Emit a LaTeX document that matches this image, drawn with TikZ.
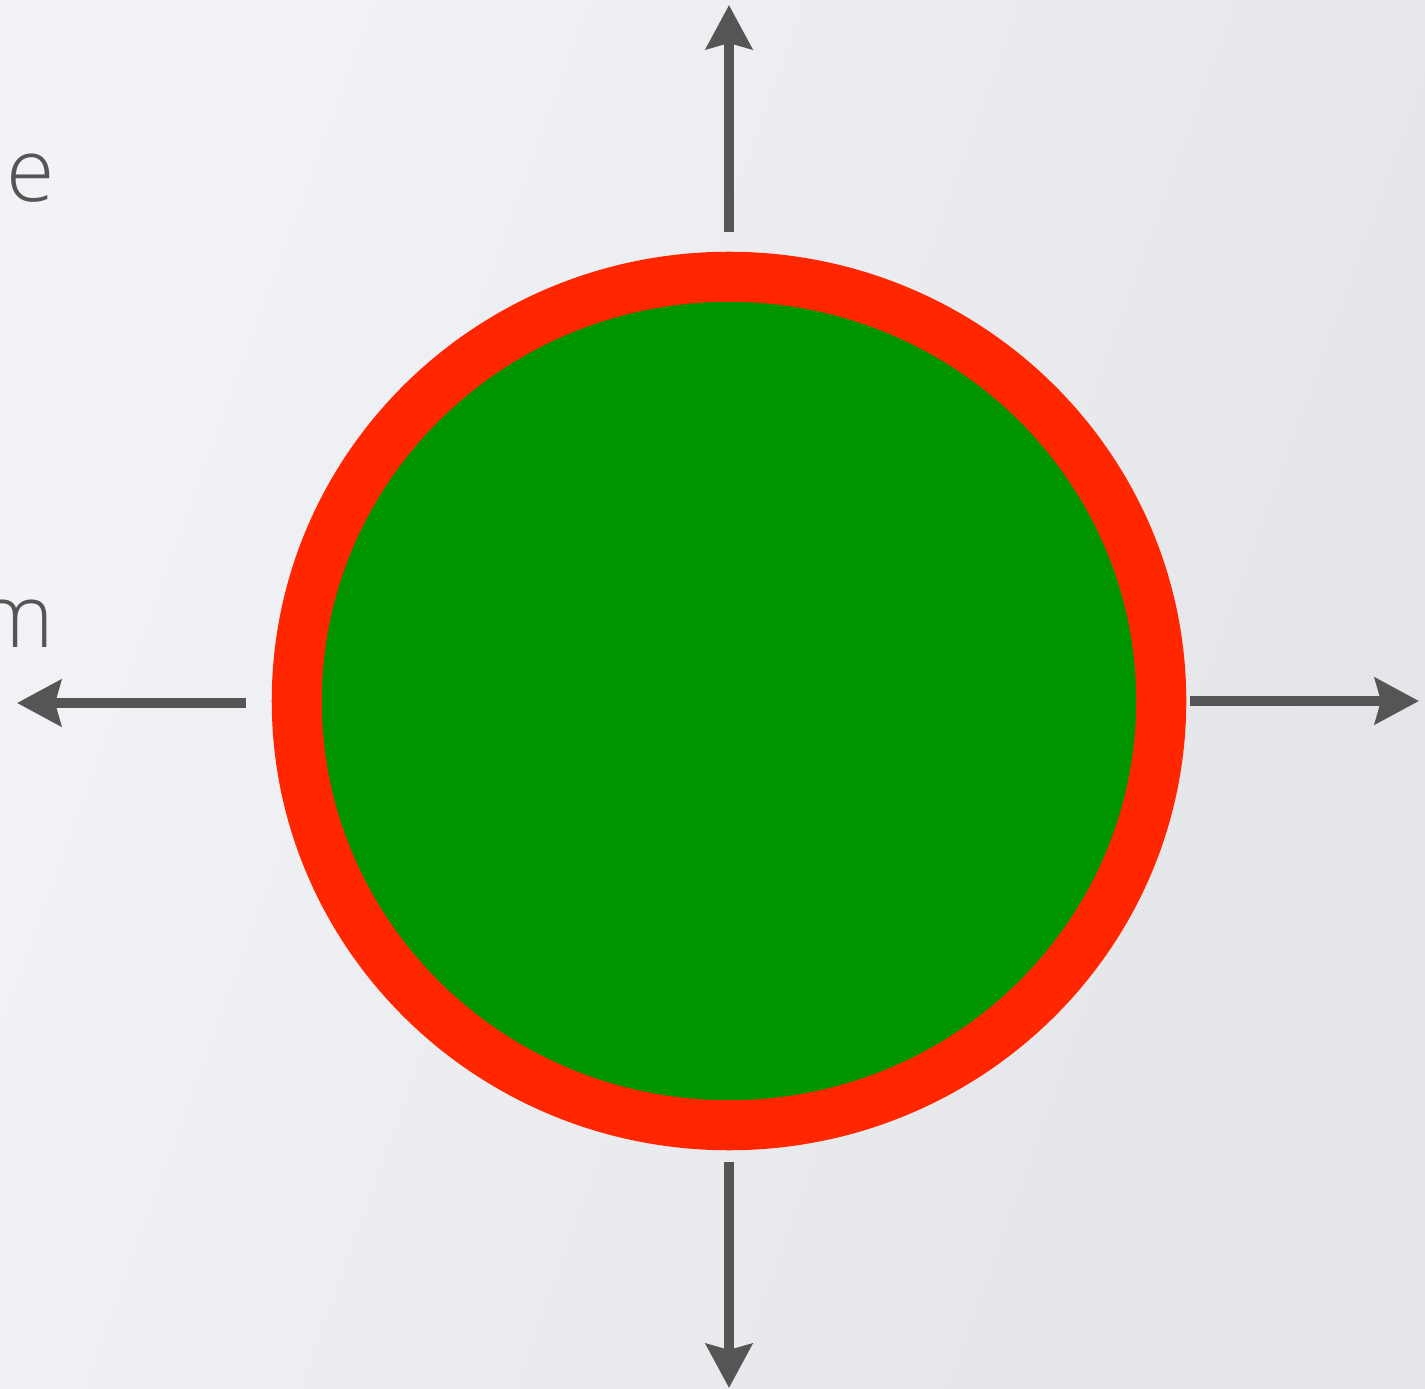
\documentclass[tikz,border=0pt]{standalone}
\usepackage{fontspec}
\setmainfont{Open Sans}[UprightFont=* Light]
\usetikzlibrary{arrows.meta,shapes.geometric,positioning}
\definecolor{bgleft}{HTML}{F2F3F7}
\definecolor{bgright}{HTML}{E3E5E9}
\definecolor{ringred}{HTML}{FF2600}
\definecolor{cellgreen}{HTML}{009500}
\definecolor{arrowgray}{HTML}{555555}
\tikzset{
  push/.style={arrowgray, line width=0.1cm, -{Stealth[length=0.44cm, width=0.46cm, inset=0.06cm]}},
  cut/.style={text=arrowgray, font=\fontsize{25}{30}\selectfont, inner sep=0pt, anchor=base east}
}
\begin{document}
\begin{tikzpicture}[x=0.01cm, y=-0.01cm]
        \useasboundingbox (0,0) rectangle (1425,1389);
        \clip (0,0) rectangle (1425,1389);
        % Latar
        \shade[left color=bgleft, right color=bgright, shading angle=70] (0,0) rectangle (1425,1389);
        % Sel
        \node[ellipse, draw=ringred, line width=0.5cm, fill=cellgreen, minimum width=8.64cm, minimum height=8.48cm, inner sep=0pt, outer sep=0pt] (cell) at (729,701) {};
        % Teks terpotong
        \node[cut] (txte) at (55,202) {e};
        \node[cut] (txtm) at (55,647) {m};
        % Panah keluar
        \coordinate (upA) at (729,232);   \coordinate (upB) at (729,5);
        \coordinate (dnA) at (729,1162);  \coordinate (dnB) at (729,1388);
        \coordinate (ltA) at (246,703);   \coordinate (ltB) at (17,703);
        \coordinate (rtA) at (1190,701);  \coordinate (rtB) at (1419,701);
        \draw[push] (upA) -- (upB);
        \draw[push] (dnA) -- (dnB);
        \draw[push] (ltA) -- (ltB);
        \draw[push] (rtA) -- (rtB);
\end{tikzpicture}
\end{document}
